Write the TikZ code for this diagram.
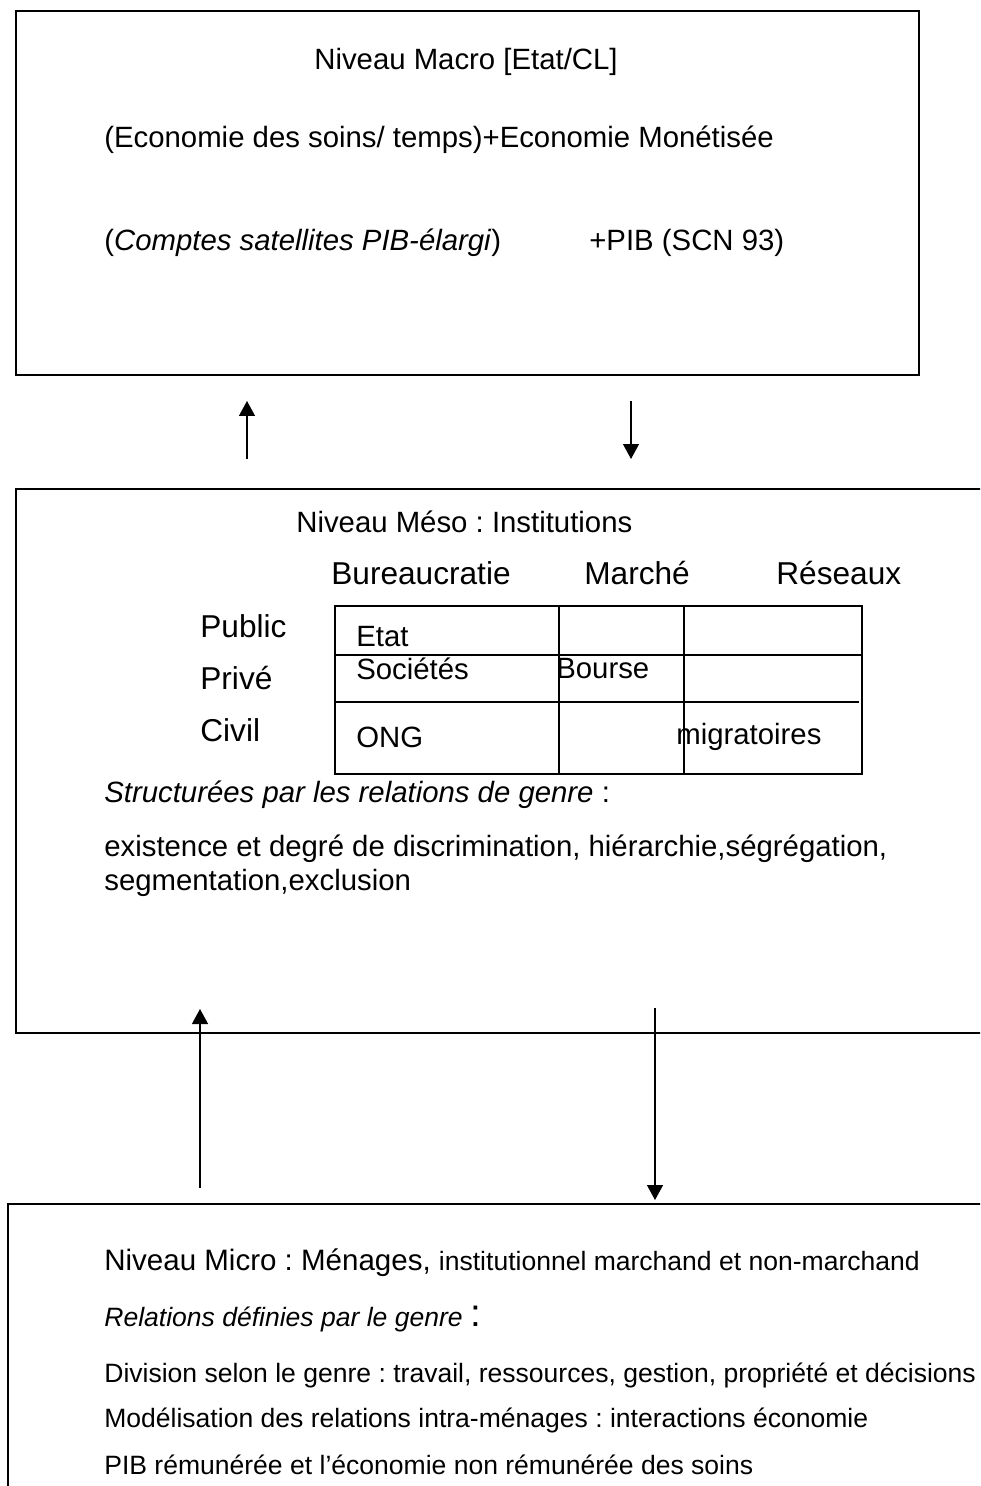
\documentclass[tikz,border=0pt]{standalone}
\usepackage{fontspec}
\setmainfont{Liberation Sans}
\usetikzlibrary{arrows.meta}
\frenchspacing

\tikzset{
    cadre/.style={draw, line width=1.1pt, inner sep=0pt},
    fleche/.style={line width=0.75pt, -{Triangle[width=0.32cm, length=0.3cm]}},
    texte/.style={anchor=west, inner sep=0pt, font=\fontsize{16.7}{20}\selectfont},
    entete/.style={anchor=west, inner sep=0pt, font=\fontsize{18}{21}\selectfont},
    petit/.style={anchor=west, inner sep=0pt, font=\fontsize{15.1}{18}\selectfont}
}

\begin{document}
\begin{tikzpicture}[x=0.02cm, y=-0.02cm]
    \useasboundingbox (0,0) rectangle (980,1486);
    \clip (0,0) rectangle (980,1486);
    % les trois niveaux
    \path node[cadre, minimum width=18.06cm, minimum height=7.28cm] (macro) at (467.5,193) {}
        node[cadre, minimum width=19.68cm, minimum height=10.88cm] (meso) at (508,761) {}
        node[cadre, minimum width=19.84cm, minimum height=5.92cm] (micro) at (504,1352) {};
    % niveau macro
    \path node[texte] (tmacro) at (314,62) {Niveau Macro [Etat/CL]}
        node[texte] (soins) at (104,140) {(Economie des soins/ temps)+Economie Monétisée}
        node[texte] (comptes) at (104,243) {(\textit{Comptes satellites PIB-élargi})}
        node[texte] (pib) at (589,243) {+PIB (SCN 93)};
    % niveau meso
    \path node[texte] (tmeso) at (296,522) {Niveau Méso : Institutions}
        node[entete] (bureau) at (331,573) {Bureaucratie}
        node[entete] (marche) at (584,573) {Marché}
        node[entete] (reseaux) at (776,573) {Réseaux}
        node[entete] (public) at (200,626) {Public}
        node[entete] (prive) at (200,678) {Privé}
        node[entete] (civil) at (200,730) {Civil};
    \draw[line width=0.8pt] (335,606) rectangle (862,774);
    \draw[line width=0.8pt] (559,606) -- (559,774)
        (684,606) -- (684,774)
        (335,655) -- (862,655)
        (335,702) -- (859,702);
    \path node[texte] (etat) at (356,637) {Etat}
        node[texte] (societes) at (356,669) {Sociétés}
        node[texte] (bourse) at (556,669) {Bourse}
        node[texte] (ong) at (356,737) {ONG}
        node[texte] (migr) at (676,737) {migratoires};
    \path node[texte] (struct) at (104,795) {\textit{Structurées par les relations de genre} :}
        node[texte] (exist) at (104,849) {existence et degré de discrimination, hiérarchie,ségrégation,}
        node[texte] (segm) at (104,883) {segmentation,exclusion};
    % niveau micro
    \path node[texte] (tmicro) at (104,1263) {{\fontsize{16.8}{20}\selectfont Niveau Micro : Ménages,} {\fontsize{15.1}{18}\selectfont institutionnel marchand et non-marchand}}
        node[petit] (relations) at (104,1319) {\textit{Relations définies par le genre} {\fontsize{22}{24}\selectfont :}}
        node[petit] (division) at (104,1375) {Division selon le genre : travail, ressources, gestion, propriété et décisions}
        node[petit] (modele) at (104,1420) {Modélisation des relations intra-ménages : interactions économie}
        node[petit] (remun) at (104,1465) {PIB rémunérée et l’économie non rémunérée des soins};
    % fleches
    \coordinate (m1) at (247,459);
    \coordinate (m2) at (247,401);
    \coordinate (d1) at (631,401);
    \coordinate (d2) at (631,459);
    \coordinate (m3) at (200,1188);
    \coordinate (m4) at (200,1009);
    \coordinate (d3) at (655,1008);
    \coordinate (d4) at (655,1200);
    \draw[fleche] (m1) -- (m2);
    \draw[fleche] (d1) -- (d2);
    \draw[fleche] (m3) -- (m4);
    \draw[fleche] (d3) -- (d4);
\end{tikzpicture}
\end{document}
